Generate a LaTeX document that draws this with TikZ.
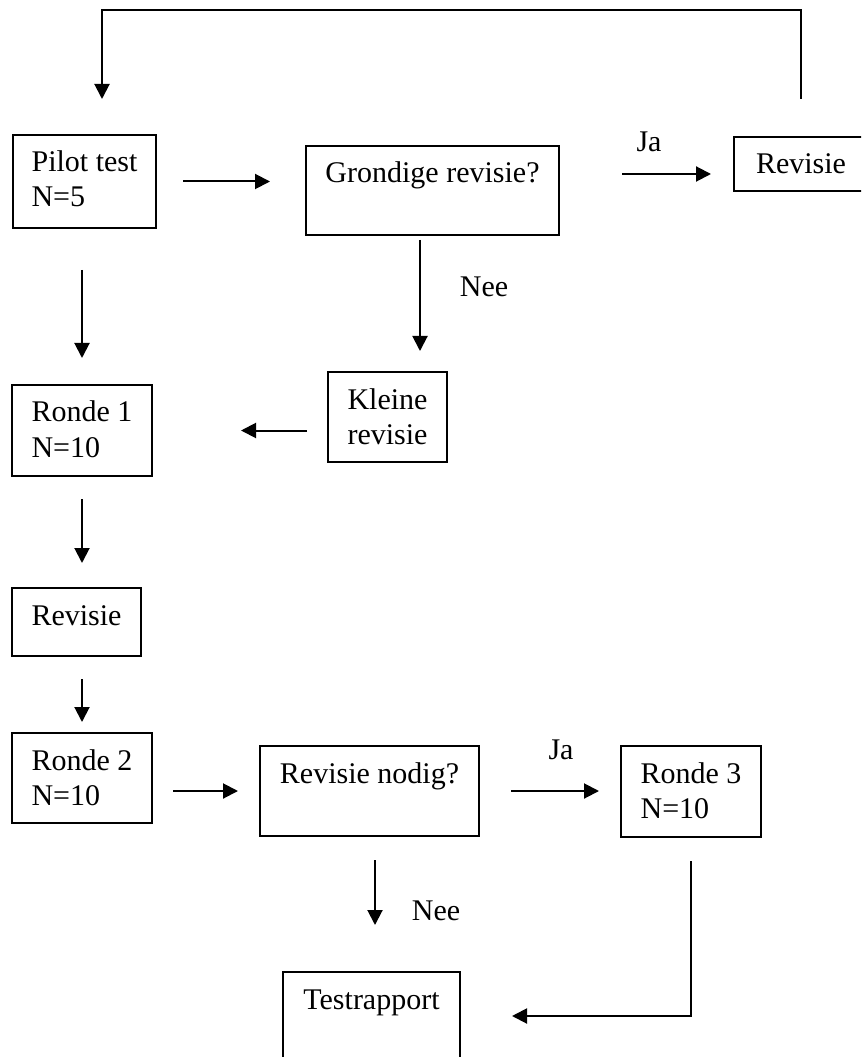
\documentclass[tikz,border=0pt]{standalone}
\usepackage{fontspec}
\setmainfont{Liberation Serif}
\usetikzlibrary{arrows.meta, calc}

\tikzset{
	blok/.style={draw, anchor=north west, inner ysep=0pt, align=left, text height=14.8pt},
	tweeregels/.style={text height=28.8pt},
}

\begin{document}
\begin{tikzpicture}[x=0.4pt, y=-0.4pt, line width=0.8pt, > = {Triangle[length=6pt, width=6pt]},
		font=\fontsize{12}{14}\selectfont]
				\clip (0,0) rectangle (861,1057);
				
				% blokken
				\node [blok, tweeregels, minimum width=57.2pt, text depth=8.4pt] (pilot) at (12,134) {Pilot test\\N=5};
				\node [blok, minimum width=101.2pt, text depth=20.8pt] (grondig) at (305,145) {Grondige revisie?};
				\node [blok, minimum width=53.6pt, text depth=6.8pt] (revisie1) at (733,136) {Revisie};
				\node [blok, tweeregels, align=center, minimum width=47.6pt, text depth=7.2pt] (klein) at (327,371) {Kleine\\revisie};
				\node [blok, tweeregels, minimum width=56pt, text depth=7.6pt] (ronde1) at (11,384) {Ronde 1\\N=10};
				\node [blok, minimum width=51.6pt, text depth=12.4pt] (revisie2) at (11,587) {Revisie};
				\node [blok, tweeregels, minimum width=56pt, text depth=7.2pt] (ronde2) at (11,732) {Ronde 2\\N=10};
				\node [blok, minimum width=87.6pt, text depth=21.2pt] (nodig) at (259,745) {Revisie nodig?};
				\node [blok, tweeregels, minimum width=56pt, text depth=7.6pt] (ronde3) at (620,745) {Ronde 3\\N=10};
				\node [blok, minimum width=70.8pt, text depth=33.2pt] (rapport) at (282,971) {Testrapport};
				
				% terugkoppeling bovenaan
				\coordinate (boven) at (400,10);
				\draw [->, shorten <=14.8pt, shorten >=14pt] (revisie1.north) |- (boven) -| ([xshift=7pt]pilot.north);
				
				% pilot, grondige revisie
				\draw [->, shorten <=10.4pt, shorten >=14pt] (pilot.east) -- (pilot.east -| grondig.west);
				\coordinate (ja1pijl) at ($(revisie1.west)+(0,10)$);
				\draw [->, shorten <=24.8pt, shorten >=8.8pt] (ja1pijl -| grondig.east) -- (ja1pijl);
				\node (ja1) at (649,142) {Ja};
				\draw [->, shorten <=1.6pt, shorten >=8pt] ([xshift=-5pt]grondig.south) -- ([xshift=-5pt]grondig.south |- klein.north);
				\node (nee1) at (484,287) {Nee};
				\draw [->, shorten <=8pt, shorten >=35.2pt] (klein.west |- ronde1.east) -- (ronde1.east);
				
				% linker kolom
				\draw [->, shorten <=16.4pt, shorten >=10.4pt] (pilot.south -| ronde1.north) -- (ronde1.north);
				\draw [->, shorten <=8.8pt, shorten >=9.6pt] (ronde1.south) -- (ronde1.south |- revisie2.north);
				\draw [->, shorten <=8.8pt, shorten >=4pt] (ronde2.north |- revisie2.south) -- (ronde2.north);
				
				% ronde 2, revisie nodig
				\draw [->, shorten <=8pt, shorten >=8.4pt] (nodig.west -| ronde2.east) -- (nodig.west);
				\draw [->, shorten <=12.4pt, shorten >=8.4pt] (nodig.east) -- (nodig.east -| ronde3.west);
				\node (ja2) at (561,750) {Ja};
				\draw [->, shorten <=9.2pt, shorten >=18.4pt] ([xshift=2.2pt]nodig.south) -- ([xshift=2.2pt]nodig.south |- rapport.north);
				\node (nee2) at (436,911) {Nee};
				\draw [->, shorten <=9.2pt, shorten >=20.4pt] (ronde3.south) |- ([yshift=-18pt]rapport.north east);
				
			\end{tikzpicture}
\end{document}
